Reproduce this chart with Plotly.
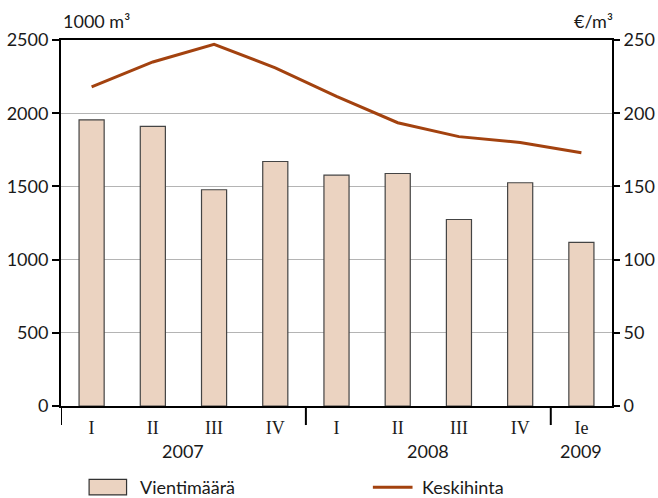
import plotly.graph_objects as go

quarters = ["I", "II", "III", "IV", "I", "II", "III", "IV", "Ie"]
years = ["2007", "2008", "2009"]
year_spans = [(0, 3), (4, 7), (8, 8)]
volume = [1955, 1910, 1477, 1670, 1577, 1588, 1274, 1525, 1117]   # 1000 m3
price = [218, 235, 247, 231, 211.5, 193.5, 184, 180, 173]          # EUR/m3

FONT = "Lato"
SERIF = "Liberation Serif"
BAR = "#ebd3c1"
LINE = "#a3420f"
TXT = "#1a1a1a"
FS = 18

x = list(range(len(quarters)))

fig = go.Figure()
fig.add_trace(go.Bar(x=x, y=volume, name="Vientimäärä", width=0.41,
                     marker=dict(color=BAR, line=dict(color="#444", width=1.2)),
                     showlegend=False))
fig.add_trace(go.Scatter(x=x, y=price, name="Keskihinta", yaxis="y2", mode="lines",
                         line=dict(color=LINE, width=3), showlegend=False))

fig.update_layout(
    width=658, height=498,
    margin=dict(l=61, r=46, t=40, b=92, autoexpand=False),
    paper_bgcolor="white", plot_bgcolor="white",
    font=dict(family=FONT, size=FS, color=TXT),
    xaxis=dict(range=[-0.5, 8.5], tickvals=x, ticktext=quarters,
               tickfont=dict(family=SERIF, size=18, color=TXT),
               showline=True, linecolor="black", linewidth=2, mirror=True,
               ticks="", showgrid=False, zeroline=False, fixedrange=True,
               ticklabelstandoff=4, automargin=False),
    yaxis=dict(range=[0, 2500], tickvals=[0, 500, 1000, 1500, 2000, 2500],
               showline=True, linecolor="black", linewidth=2,
               ticks="outside", ticklen=7, tickwidth=2, tickcolor="black",
               showgrid=True, gridcolor="#b4b4b4", gridwidth=1, automargin=False,
               zeroline=False, tickfont=dict(family=FONT, size=FS, color=TXT)),
    yaxis2=dict(range=[0, 250], tickvals=[0, 50, 100, 150, 200, 250],
                overlaying="y", side="right", automargin=False,
                showline=True, linecolor="black", linewidth=2,
                ticks="outside", ticklen=6, tickwidth=2, tickcolor="black",
                showgrid=False, zeroline=False,
                tickfont=dict(family=FONT, size=FS, color=TXT)),
)

# group separators below the axis
for xs in [-0.5, 3.5, 7.5]:
    fig.add_shape(type="line", xref="x", yref="paper", x0=xs, x1=xs, y0=0, y1=-0.052,
                  line=dict(color="black", width=2))

# year labels
for yr, (a, b) in zip(years, year_spans):
    fig.add_annotation(x=(a + b) / 2, xref="x", y=-0.123, yref="paper", text=yr,
                       showarrow=False, font=dict(family=FONT, size=FS, color=TXT),
                       yanchor="middle")

# axis unit labels
fig.add_annotation(x=0, xref="paper", y=1.052, yref="paper", text="1000 m³",
                   xanchor="left", yanchor="middle", showarrow=False,
                   font=dict(family=FONT, size=FS, color=TXT))
fig.add_annotation(x=1.006, xref="paper", y=1.052, yref="paper", text="€/m³",
                   xanchor="right", yanchor="middle", showarrow=False,
                   font=dict(family=FONT, size=FS, color=TXT))

# legend
fig.add_shape(type="rect", xref="paper", yref="paper", x0=0.051, x1=0.119,
              y0=-0.243, y1=-0.2005, fillcolor=BAR, line=dict(color="#333", width=1.2))
fig.add_annotation(x=0.139, xref="paper", y=-0.222, yref="paper", text="Vientimäärä",
                   xanchor="left", yanchor="middle", showarrow=False,
                   font=dict(family=FONT, size=FS, color=TXT))
fig.add_shape(type="line", xref="paper", yref="paper", x0=0.566, x1=0.638,
              y0=-0.222, y1=-0.222, line=dict(color=LINE, width=3))
fig.add_annotation(x=0.651, xref="paper", y=-0.222, yref="paper", text="Keskihinta",
                   xanchor="left", yanchor="middle", showarrow=False,
                   font=dict(family=FONT, size=FS, color=TXT))

fig.write_html("out.html", config={"responsive": False, "displayModeBar": False},
               post_script="document.body.style.margin='0px';document.body.style.overflow='hidden';")
